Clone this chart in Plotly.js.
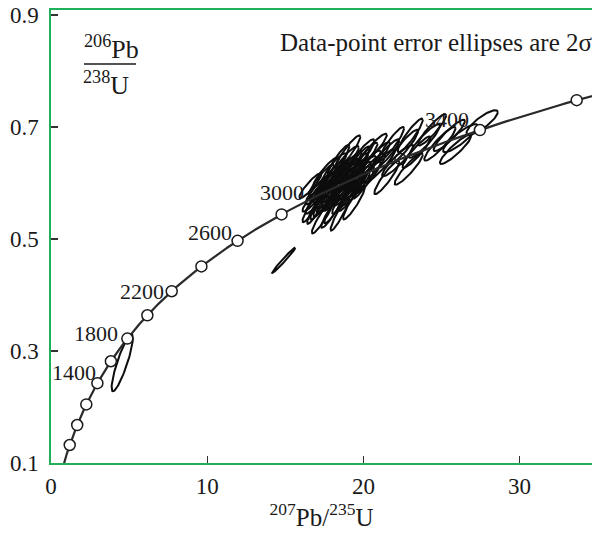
<!DOCTYPE html>
<html><head><meta charset="utf-8">
<script src="https://cdn.plot.ly/plotly-3.0.1.min.js"></script>
<style>html,body{margin:0;padding:0;background:#fff;overflow:hidden}</style>
</head><body><div id="chart" style="width:592px;height:534px"></div>
<script>
// Concordia reference ages (Ma)
const markerAges = [800,1000,1200,1400,1600,1800,2000,2200,2400,2600,2800,3000,3200,3400,3600];
const coveredAges = [3000,3200]; // circles hidden beneath the data cluster
const labelAges = [1400,1800,2200,2600,3000,3400];
const LAMBDA238 = 1.55125e-4; // 1/Ma
const LAMBDA235 = 9.8485e-4;  // 1/Ma

// Data-point ellipses (2 sigma): centre 207Pb/235U, centre 206Pb/238U, 2s x, 2s y, rho
const ellX   = [4.56, 14.9,
  16.9,17.2,17.5,17.8,18.0,18.3,18.5,18.7,18.9,19.1,19.3,19.6,19.8,20.1,
  17.0,17.4,18.2,18.8,19.5,20.3,16.6,17.6,18.4,19.0,20.6,21.0,21.4,21.8,
  22.2,22.6,23.0,23.4,23.9,24.4,24.9,25.5,26.2,27.6,21.5,20.0,18.5,19.4,22.9,25.9,
  17.3,17.9,18.1,18.6,19.2,19.7,17.1,17.7,18.9,19.9,16.8,18.0,20.5,19.0,18.2,
  17.5,18.3,18.8,19.4,17.9,18.6,19.2,17.4,20.2,18.0,19.6,20.8];
const ellY   = [0.279, 0.462,
  0.575,0.590,0.570,0.600,0.585,0.610,0.595,0.620,0.605,0.630,0.615,0.635,0.620,0.645,
  0.555,0.540,0.560,0.575,0.590,0.610,0.595,0.620,0.640,0.655,0.660,0.630,0.650,0.670,
  0.640,0.665,0.685,0.655,0.675,0.695,0.670,0.685,0.680,0.708,0.610,0.600,0.545,0.565,0.625,0.660,
  0.605,0.575,0.625,0.585,0.600,0.610,0.575,0.590,0.640,0.650,0.560,0.550,0.625,0.590,0.595,
  0.595,0.580,0.615,0.625,0.610,0.605,0.580,0.565,0.630,0.600,0.600,0.645];
const ellSX  = [0.68, 0.74,
  0.8,0.9,0.7,0.8,1.0,0.8,0.9,0.7,1.0,0.8,0.9,0.8,1.0,0.8,
  0.6,0.7,0.7,0.8,0.9,0.8,0.7,0.8,0.7,0.8,0.9,1.0,0.9,0.8,
  1.0,0.9,0.8,0.9,1.0,0.9,1.0,1.0,1.1,1.0,0.8,0.7,0.6,0.7,0.9,1.0,
  0.8,0.9,0.8,0.9,0.9,0.8,0.8,0.9,0.8,0.8,0.7,0.7,0.9,0.9,0.9,
  0.9,0.9,0.9,0.9,0.8,0.9,0.8,0.8,0.9,0.8,0.8,0.9];
const ellSY  = [0.051, 0.0225,
  0.026,0.028,0.030,0.027,0.030,0.025,0.028,0.026,0.030,0.027,0.028,0.030,0.028,0.027,
  0.028,0.030,0.032,0.030,0.030,0.028,0.022,0.026,0.028,0.030,0.028,0.030,0.028,0.030,
  0.028,0.030,0.030,0.028,0.030,0.028,0.030,0.028,0.025,0.022,0.030,0.028,0.030,0.030,0.028,0.026,
  0.028,0.030,0.028,0.030,0.030,0.028,0.030,0.028,0.026,0.028,0.030,0.030,0.028,0.030,0.030,
  0.028,0.030,0.028,0.028,0.028,0.030,0.030,0.030,0.028,0.030,0.030,0.028];
const ellRho = [0.87, 0.985,
  0.92,0.91,0.92,0.92,0.91,0.92,0.92,0.91,0.92,0.92,0.92,0.91,0.92,0.92,
  0.92,0.93,0.92,0.92,0.92,0.92,0.91,0.92,0.91,0.92,0.92,0.92,0.92,0.92,
  0.92,0.92,0.92,0.92,0.91,0.92,0.92,0.91,0.88,0.84,0.92,0.92,0.93,0.92,0.92,0.91,
  0.92,0.92,0.9,0.92,0.92,0.9,0.93,0.92,0.9,0.9,0.93,0.93,0.9,0.92,0.92,
  0.93,0.93,0.92,0.92,0.92,0.93,0.93,0.93,0.92,0.93,0.92,0.92];

const xTicks = [0,10,20,30];
const yTicks = [0.1,0.3,0.5,0.7,0.9];
const yTickText = ['0.1','0.3','0.5','0.7','0.9'];

// label placement (pixel offsets), kept apart from data
const labelShift = {1400:[1,11],1800:[-7,5],2200:[-6,0],2600:[-4,8],3000:[-29,-5],3400:[-9,11]};

const r207 = t => Math.exp(LAMBDA235*t)-1;
const r206 = t => Math.exp(LAMBDA238*t)-1;

// concordia curve
const curveX=[], curveY=[];
for (let t=450; t<=3750; t+=10){ curveX.push(r207(t)); curveY.push(r206(t)); }

// ellipse outlines
const eX=[], eY=[];
for (let i=0;i<ellX.length;i++){
  const s=Math.sqrt(1-ellRho[i]*ellRho[i]);
  for (let k=0;k<=72;k++){
    const a=2*Math.PI*k/72;
    eX.push(ellX[i]+ellSX[i]*Math.cos(a));
    eY.push(ellY[i]+ellSY[i]*(ellRho[i]*Math.cos(a)+s*Math.sin(a)));
  }
  eX.push(null); eY.push(null);
}

const FONT = 'Liberation Serif, Times New Roman, serif';
const INK = '#1a1a1a';
const GREEN = '#1fb15a';

const shownAges = markerAges.filter(t=>!coveredAges.includes(t));
const markerStyle = {size:11, color:'#fff', line:{color:'#1a1a1a', width:1.5}};
const traces = [
  {x:coveredAges.map(r207), y:coveredAges.map(r206), mode:'markers', marker:markerStyle, showlegend:false},
  {x:eX, y:eY, mode:'lines', line:{color:'#0d0d0d', width:2}, hoverinfo:'skip', showlegend:false},
  {x:curveX, y:curveY, mode:'lines', line:{color:'#2a2a2a', width:2.2}, hoverinfo:'skip', showlegend:false},
  {x:shownAges.map(r207), y:shownAges.map(r206), mode:'markers', marker:markerStyle, showlegend:false}
];

const W=592, H=534, ml=51, mr=0, mt=10, mb=71;
const pw=W-ml-mr, ph=H-mt-mb;
const px = p => (p-ml)/pw;
const py = p => 1-(p-mt)/ph;

const annotations = labelAges.map(t=>({
  x:r207(t), y:r206(t), xref:'x', yref:'y', text:String(t), showarrow:false,
  xanchor:'right', yanchor:'middle', xshift:labelShift[t][0], yshift:labelShift[t][1],
  font:{family:FONT, size:22, color:INK}
}));
annotations.push({xref:'paper', yref:'paper', x:px(594), y:py(42), xanchor:'right', yanchor:'middle',
  text:'Data-point error ellipses are 2σ', showarrow:false, font:{family:FONT, size:25, color:INK}});
annotations.push({xref:'paper', yref:'paper', x:px(111), y:py(48), xanchor:'center', yanchor:'middle',
  text:'<sup>206</sup>Pb', showarrow:false, font:{family:FONT, size:26, color:INK}});
annotations.push({xref:'paper', yref:'paper', x:px(106), y:py(84), xanchor:'center', yanchor:'middle',
  text:'<sup>238</sup>U', showarrow:false, font:{family:FONT, size:26, color:INK}});

const layout = {
  width:W, height:H, margin:{l:ml, r:mr, t:mt, b:mb},
  paper_bgcolor:'#fff', plot_bgcolor:'#fff', showlegend:false,
  font:{family:FONT, color:INK},
  xaxis:{range:[0,pw/15.62], tickvals:xTicks, ticktext:xTicks.map(String), ticks:'inside', ticklen:7,
    tickwidth:1.3, tickcolor:'#333', showgrid:false, zeroline:false, showline:true, linecolor:GREEN,
    linewidth:1.6, mirror:true, tickfont:{family:FONT, size:23, color:INK}, ticklabelstandoff:2,
    title:{text:'<sup>207</sup>Pb/<sup>235</sup>U', font:{family:FONT, size:25, color:INK}, standoff:10}},
  yaxis:{range:[0.1, 0.1+ph/560], tickvals:yTicks, ticktext:yTickText, ticks:'inside', ticklen:7,
    tickwidth:1.3, tickcolor:'#333', showgrid:false, zeroline:false, showline:true, linecolor:GREEN,
    linewidth:1.6, tickfont:{family:FONT, size:23, color:INK}, ticklabelstandoff:6},
  shapes:[{type:'line', xref:'paper', yref:'paper', x0:px(84), x1:px(136), y0:py(64), y1:py(64),
    line:{color:INK, width:1.3}}],
  annotations
};

Plotly.newPlot('chart', traces, layout, {displayModeBar:false, staticPlot:true});
</script></body></html>
